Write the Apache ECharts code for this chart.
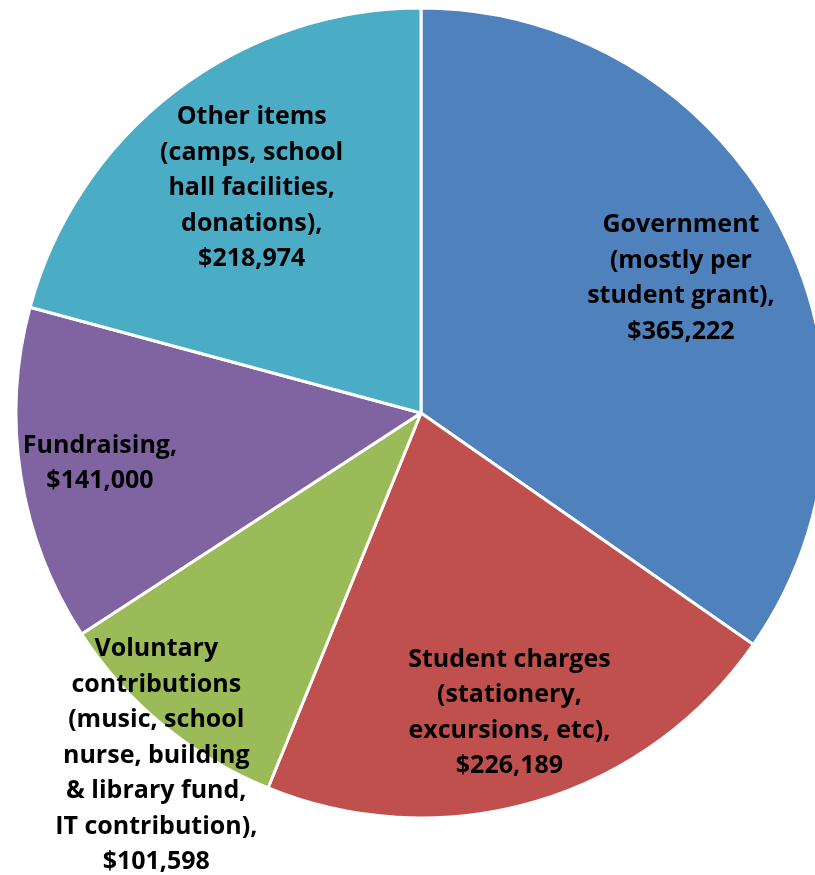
<!DOCTYPE html>
<html>
<head>
<meta charset="utf-8">
<title>School income sources</title>
<script src="https://cdn.jsdelivr.net/npm/echarts@6/dist/echarts.min.js"></script>
<style>
  html, body { margin: 0; padding: 0; background: #ffffff; }
  #chart { width: 815px; height: 875px; }
</style>
</head>
<body>
<div id="chart"></div>
<script>
// Income categories (line breaks follow the label wrapping)
const categories = [
  'Government\n(mostly per\nstudent grant)',
  'Student charges\n(stationery,\nexcursions, etc)',
  'Voluntary\ncontributions\n(music, school\nnurse, building\n& library fund,\nIT contribution)',
  'Fundraising',
  'Other items\n(camps, school\nhall facilities,\ndonations)'
];
// Income amounts in dollars
const amounts = [365222, 226189, 101598, 141000, 218974];

// Slice colours
const colors = ['#4F81BD', '#C0504D', '#9BBB59', '#8064A2', '#4BACC6'];
// How far out along each slice's bisector its label sits (fraction of radius)
const labelDistance = [0.724, 0.77, 1.065, 0.80, 0.70];
// Small pixel nudges applied after placing each label on its bisector
const labelNudge = [[0, 1], [0, 1], [10, 10], [-1, 0], [3, 0]];

const CX = 421, CY = 413, R = 405;

const total = amounts.reduce((a, b) => a + b, 0);
const midAngles = [];
let acc = 0;
amounts.forEach(v => {
  const span = v / total * 2 * Math.PI;
  midAngles.push(acc + span / 2);
  acc += span;
});

const fmt = n => '$' + n.toLocaleString('en-US');

const chart = echarts.init(document.getElementById('chart'), null, { renderer: 'canvas' });
chart.setOption({
  animation: false,
  color: colors,
  series: [{
    type: 'pie',
    center: [CX, CY],
    radius: R,
    startAngle: 90,
    clockwise: true,
    avoidLabelOverlap: false,
    itemStyle: { borderColor: '#ffffff', borderWidth: 3 },
    emphasis: { disabled: true },
    label: {
      show: true,
      position: 'inside',
      formatter: p => p.name + ',\n' + fmt(p.value),
      color: '#000000',
      fontFamily: 'Open Sans',
      fontWeight: 'bold',
      fontSize: 25,
      lineHeight: 35.5,
      align: 'center'
    },
    labelLine: { show: false },
    labelLayout: p => {
      const i = p.dataIndex;
      const a = midAngles[i];
      const d = labelDistance[i] * R;
      return {
        x: CX + d * Math.sin(a) + labelNudge[i][0],
        y: CY - d * Math.cos(a) + labelNudge[i][1],
        align: 'center',
        verticalAlign: 'middle'
      };
    },
    data: categories.map((c, i) => ({ name: c, value: amounts[i] }))
  }]
});
</script>
</body>
</html>
